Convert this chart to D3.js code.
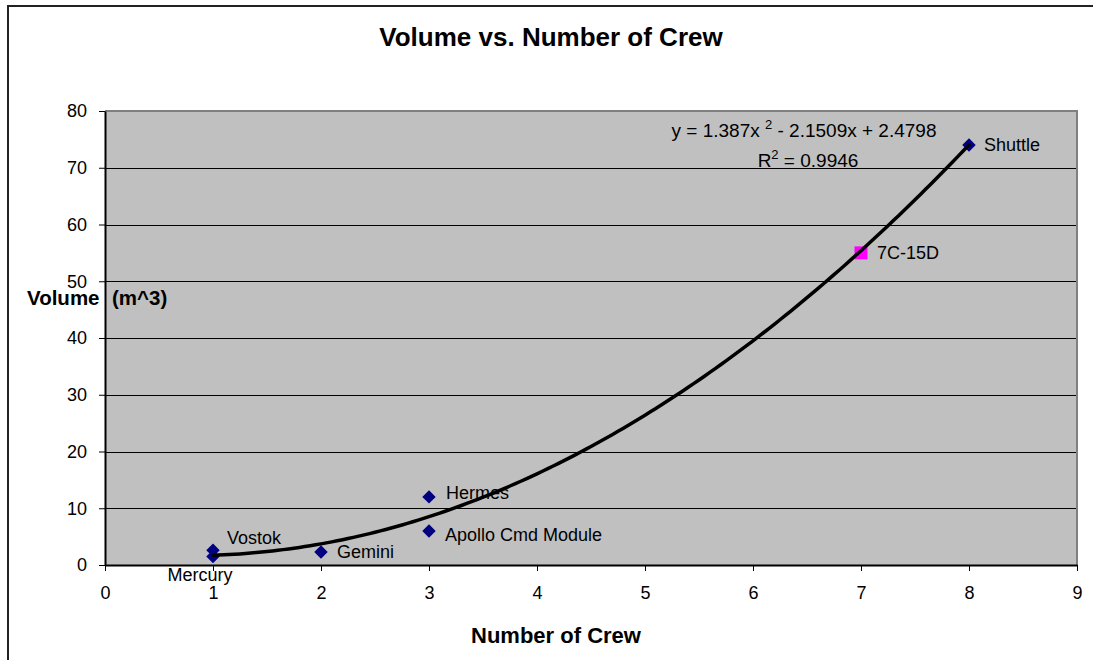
<!DOCTYPE html>
<html>
<head>
<meta charset="utf-8">
<script src="https://cdn.jsdelivr.net/npm/d3@7"></script>
<style>
  html, body { margin: 0; padding: 0; background: #fff; }
  svg { display: block; font-family: "Liberation Sans", Arial, sans-serif; }
</style>
</head>
<body>
<svg id="chart" width="1093" height="660"></svg>
<script>
// ---- Data ----
const spacecraft = ["Mercury", "Vostok", "Gemini", "Hermes", "Apollo Cmd Module", "Shuttle"];
const crew       = [1, 1, 2, 3, 3, 8];
const volume     = [1.5, 2.6, 2.3, 12, 6, 74];

const designName   = ["7C-15D"];
const designCrew   = [7];
const designVolume = [55];

// polynomial trendline shown on the chart: a*x^2 + b*x + c
const trendCoef = [1.387, -2.1509, 2.4798];
const trendR2   = 0.9946;

const xTicks = [0, 1, 2, 3, 4, 5, 6, 7, 8, 9];
const yTicks = [0, 10, 20, 30, 40, 50, 60, 70, 80];

// ---- Layout ----
const plot = { left: 105, right: 1077, top: 111, bottom: 565 };

// label placement per point (dx, dy from marker centre)
const labelPos = {
  "Mercury":           { dx: -13, dy: 25, anchor: "middle", base: "auto" },
  "Vostok":            { dx: 14,  dy: -13 },
  "Gemini":            { dx: 16,  dy: 0 },
  "Hermes":            { dx: 17,  dy: -4 },
  "Apollo Cmd Module": { dx: 16,  dy: 4 },
  "Shuttle":           { dx: 15,  dy: 0 },
  "7C-15D":            { dx: 16,  dy: 0 }
};

const svg = d3.select("#chart");

// outer chart frame (bottom/right run off the page)
svg.append("rect")
  .attr("x", 8).attr("y", 6)
  .attr("width", 1092).attr("height", 700)
  .attr("fill", "#fff")
  .attr("stroke", "#222")
  .attr("stroke-width", 2);

const x = d3.scaleLinear().domain([0, 9]).range([plot.left, plot.right]);
const y = d3.scaleLinear().domain([0, 80]).range([plot.bottom, plot.top]);

// plot background
svg.append("rect")
  .attr("x", plot.left).attr("y", plot.top)
  .attr("width", plot.right - plot.left)
  .attr("height", plot.bottom - plot.top)
  .attr("fill", "#c0c0c0");

// gridlines
svg.append("g")
  .selectAll("line")
  .data(yTicks.filter(t => t > 0 && t < 80))
  .join("line")
  .attr("x1", plot.left).attr("x2", plot.right)
  .attr("y1", d => Math.round(y(d)) + 0.5)
  .attr("y2", d => Math.round(y(d)) + 0.5)
  .attr("stroke", "#000")
  .attr("stroke-width", 1);

// top and right plot border (grey)
svg.append("path")
  .attr("d", `M${plot.left},${plot.top}H${plot.right}V${plot.bottom}`)
  .attr("fill", "none")
  .attr("stroke", "#808080")
  .attr("stroke-width", 2);

// ---- Axes ----
const xAxis = svg.append("g")
  .attr("transform", `translate(0,${plot.bottom})`)
  .call(d3.axisBottom(x).tickValues(xTicks).tickFormat(d3.format("d"))
    .tickSizeInner(6).tickSizeOuter(0).tickPadding(15));

const yAxis = svg.append("g")
  .attr("transform", `translate(${plot.left},0)`)
  .call(d3.axisLeft(y).tickValues(yTicks).tickFormat(d3.format("d"))
    .tickSizeInner(6).tickSizeOuter(0).tickPadding(12));

[xAxis, yAxis].forEach(g => {
  g.select(".domain").attr("stroke", "#000").attr("stroke-width", 2);
  g.selectAll(".tick line").attr("stroke", "#000").attr("stroke-width", 1);
  g.selectAll(".tick text")
    .attr("fill", "#000")
    .style("font-size", "18px")
    .style("font-family", "'Liberation Sans', Arial, sans-serif");
});

// ---- Series ----
const pts = spacecraft.map((n, i) => ({ name: n, x: crew[i], y: volume[i] }));
const design = designName.map((n, i) => ({ name: n, x: designCrew[i], y: designVolume[i] }));

const diamond = d3.symbol().type(d3.symbolDiamond2).size(115);
svg.append("g")
  .selectAll("path")
  .data(pts)
  .join("path")
  .attr("transform", d => `translate(${x(d.x)},${y(d.y)})`)
  .attr("d", diamond)
  .attr("fill", "#000080");

svg.append("g")
  .selectAll("rect")
  .data(design)
  .join("rect")
  .attr("x", d => x(d.x) - 6.5).attr("y", d => y(d.y) - 6.5)
  .attr("width", 13).attr("height", 13)
  .attr("fill", "#ff00ff");

// trendline over crew range
const [a, b, c] = trendCoef;
const xMin = d3.min(crew), xMax = d3.max(crew);
const trend = d3.range(xMin, xMax + 0.001, 0.05).map(v => [v, a * v * v + b * v + c]);
svg.append("path")
  .datum(trend)
  .attr("fill", "none")
  .attr("stroke", "#000")
  .attr("stroke-width", 3.5)
  .attr("stroke-linecap", "round")
  .attr("d", d3.line().x(d => x(d[0])).y(d => y(d[1])).curve(d3.curveMonotoneX));

// point labels
svg.append("g")
  .selectAll("text")
  .data(pts.concat(design))
  .join("text")
  .attr("x", d => x(d.x) + labelPos[d.name].dx)
  .attr("y", d => y(d.y) + labelPos[d.name].dy)
  .attr("dy", d => labelPos[d.name].base ? 0 : "0.35em")
  .attr("text-anchor", d => labelPos[d.name].anchor || "start")
  .style("font-size", "18px")
  .attr("fill", "#000")
  .text(d => d.name);

// trendline equation
const eq = svg.append("text")
  .attr("x", 804).attr("y", 137)
  .attr("text-anchor", "middle")
  .style("font-size", "19px");
eq.append("tspan").text(`y = ${a}x `);
eq.append("tspan").attr("dy", -8).style("font-size", "13px").text("2");
eq.append("tspan").attr("dy", 8).text(` - ${Math.abs(b)}x + ${c}`);

const r2 = svg.append("text")
  .attr("x", 808).attr("y", 167)
  .attr("text-anchor", "middle")
  .style("font-size", "19px");
r2.append("tspan").text("R");
r2.append("tspan").attr("dy", -8).style("font-size", "13px").text("2");
r2.append("tspan").attr("dy", 8).text(` = ${trendR2}`);

// ---- Titles ----
svg.append("text")
  .attr("x", 551).attr("y", 46)
  .attr("text-anchor", "middle")
  .style("font-size", "26px").style("font-weight", "bold")
  .text("Volume vs. Number of Crew");

svg.append("text")
  .attr("x", 556).attr("y", 643)
  .attr("text-anchor", "middle")
  .style("font-size", "22px").style("font-weight", "bold")
  .text("Number of Crew");

const yTitle = svg.append("text")
  .attr("x", 27).attr("y", 305)
  .style("font-size", "20.5px").style("font-weight", "bold");
yTitle.append("tspan").text("Volume");
yTitle.append("tspan").attr("x", 112).text("(m^3)");
</script>
</body>
</html>
